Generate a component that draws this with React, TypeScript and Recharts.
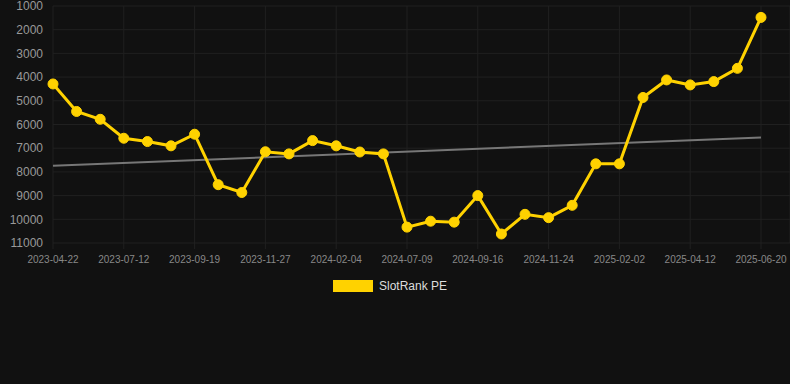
import React from "react";
import {
  LineChart,
  Line,
  XAxis,
  YAxis,
  CartesianGrid,
  Legend,
  ReferenceLine,
} from "recharts";

const dates = [
  "2023-04-22", "2023-05-19", "2023-06-15", "2023-07-12", "2023-08-04", "2023-08-27",
  "2023-09-19", "2023-10-12", "2023-11-04", "2023-11-27", "2023-12-20", "2024-01-12",
  "2024-02-04", "2024-03-25", "2024-05-15", "2024-07-09", "2024-08-01", "2024-08-24",
  "2024-09-16", "2024-10-09", "2024-11-01", "2024-11-24", "2024-12-17", "2025-01-09",
  "2025-02-02", "2025-02-25", "2025-03-20", "2025-04-12", "2025-05-05", "2025-05-28",
  "2025-06-20",
];

const rankPE = [
  4290, 5450, 5780, 6580, 6720, 6900, 6410, 8540, 8870, 7150, 7240, 6680,
  6900, 7160, 7240, 10330, 10080, 10120, 9000, 10620, 9790, 9930, 9410, 7660,
  7660, 4860, 4120, 4330, 4190, 3630, 1480,
];

const trendStart = 7740;
const trendEnd = 6550;

const yTicks = [1000, 2000, 3000, 4000, 5000, 6000, 7000, 8000, 9000, 10000, 11000];

const data = dates.map((d, i) => ({ date: d, pe: rankPE[i] }));

const YELLOW = "#FFD200";
const GRID = "#202020";
const FONT = "'Liberation Sans', Arial, sans-serif";

const LegendContent = () => (
  <div
    style={{
      display: "flex",
      justifyContent: "center",
      alignItems: "center",
      height: 20,
      fontFamily: FONT,
      fontSize: 12,
      color: "#dddddd",
      paddingRight: 10,
    }}
  >
    <span
      style={{
        display: "inline-block",
        width: 40,
        height: 12,
        background: YELLOW,
        marginRight: 6,
      }}
    />
    <span>SlotRank PE</span>
  </div>
);

export default function App() {
  return (
    <div style={{ position: "absolute", left: 0, top: 0, width: 790, height: 384, background: "#111111" }}>
      <LineChart
        width={790}
        height={384}
        data={data}
        margin={{ top: 6, right: 0, left: 0, bottom: 91 }}
        style={{ background: "#111111" }}
      >
        <CartesianGrid stroke={GRID} strokeWidth={1} />
        <XAxis
          dataKey="date"
          interval={2}
          tick={{ fill: "#888888", fontSize: 10, fontFamily: FONT }}
          tickLine={{ stroke: GRID }}
          axisLine={false}
          tickSize={6}
          tickMargin={7}
          height={30}
          padding={{ left: 0, right: 29 }}
        />
        <YAxis
          reversed
          domain={[1000, 11000]}
          ticks={yTicks}
          interval={0}
          allowDataOverflow
          tick={{ fill: "#999999", fontSize: 12, fontFamily: FONT }}
          tickLine={false}
          axisLine={false}
          width={53}
          tickMargin={4}
        />
        <ReferenceLine
          segment={[
            { x: dates[0], y: trendStart },
            { x: dates[dates.length - 1], y: trendEnd },
          ]}
          stroke="#777777"
          strokeWidth={2}
          ifOverflow="visible"
        />
        <Line
          type="linear"
          dataKey="pe"
          name="SlotRank PE"
          stroke={YELLOW}
          strokeWidth={3}
          dot={{ r: 5, fill: YELLOW, stroke: YELLOW, strokeWidth: 1 }}
          activeDot={false}
          isAnimationActive={false}
        />
        <Legend verticalAlign="bottom" content={<LegendContent />} wrapperStyle={{ bottom: 88 }} />
      </LineChart>
    </div>
  );
}
